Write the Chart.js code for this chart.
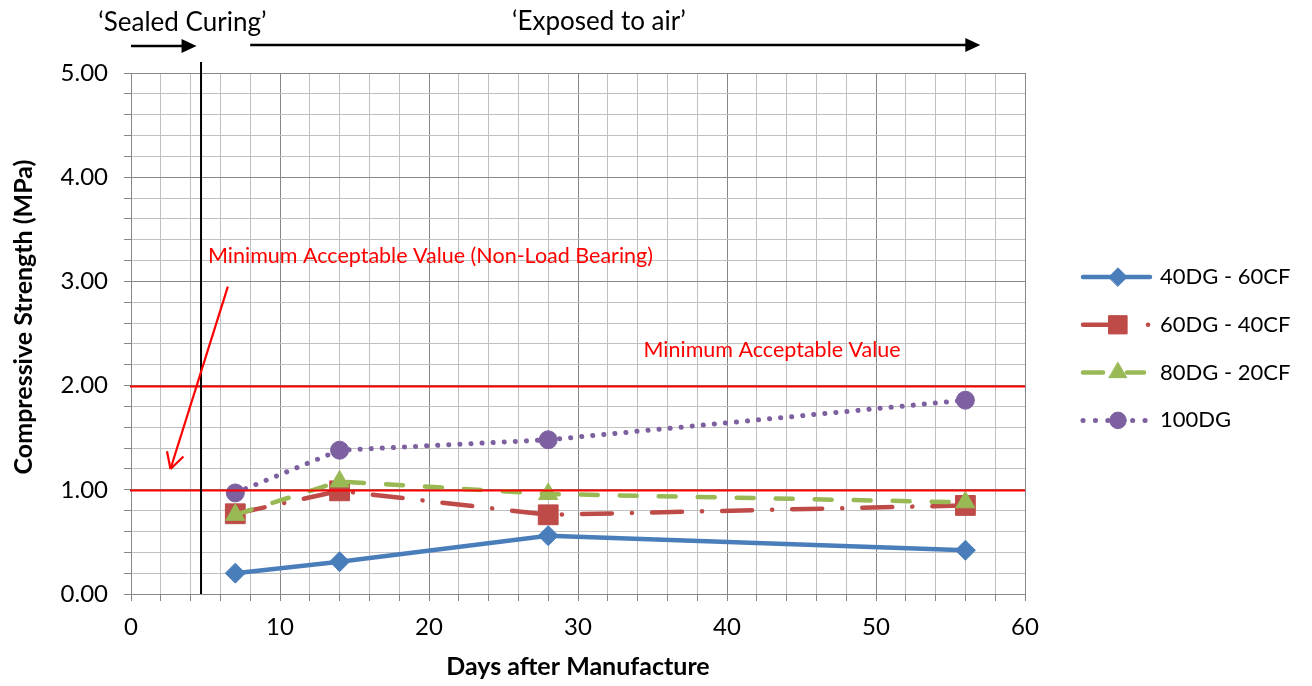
<!DOCTYPE html>
<html>
<head>
<meta charset="utf-8">
<script src="https://cdn.jsdelivr.net/npm/chart.js@4.4.1/dist/chart.umd.min.js"></script>
<style>
  html, body { margin: 0; padding: 0; background: #fff; }
  #wrap { width: 1312px; height: 686px; }
</style>
</head>
<body>
<div id="wrap"><canvas id="myChart" width="1312" height="686"></canvas></div>
<script>
// values
const days = [7, 14, 28, 56];
const s40dg = [0.20, 0.31, 0.56, 0.42];
const s60dg = [0.77, 0.99, 0.76, 0.85];
const s80dg = [0.76, 1.08, 0.96, 0.88];
const s100dg = [0.97, 1.38, 1.48, 1.86];
const seriesNames = ['40DG - 60CF', '60DG - 40CF', '80DG - 20CF', '100DG'];
const minValues = [1.0, 2.0];
const sealedEnd = 4.7;

const FONT = 'Lato, "Open Sans", sans-serif';

function pts(vals) {
    return days.map(function (d, i) { return { x: d, y: vals[i] }; });
}

const styles = [
    { color: '#4a7ebb', dash: [], legendDash: [], point: 'rectRot', r: 10, w: 4.5 },
    { color: '#be4b48', dash: [30, 20, 0.1, 20], legendDash: [35, 30, 0.1, 100], point: 'rect', r: 14, w: 4.5 },
    { color: '#98b954', dash: [17, 22], legendDash: [20, 24, 17, 100], point: 'triangle', r: 11, w: 4.5 },
    { color: '#7d60a0', dash: [0.1, 11], legendDash: [0.1, 12.3], point: 'circle', r: 9, w: 5 }
];
const allVals = [s40dg, s60dg, s80dg, s100dg];

const datasets = allVals.map(function (v, i) {
    const st = styles[i];
    return {
        label: seriesNames[i],
        data: pts(v),
        showLine: true,
        borderColor: st.color,
        backgroundColor: st.color,
        borderWidth: st.w,
        borderDash: st.dash,
        borderCapStyle: 'round',
        pointStyle: st.point,
        pointRadius: st.r,
        pointHoverRadius: st.r,
        pointBackgroundColor: st.color,
        pointBorderColor: st.color,
        pointBorderWidth: 1,
        order: 4 - i
    };
});

function line(ctx, x1, y1, x2, y2) {
    ctx.beginPath();
    ctx.moveTo(x1, y1);
    ctx.lineTo(x2, y2);
    ctx.stroke();
}

function solidArrow(ctx, x1, x2, y) {
    ctx.lineWidth = 2.5;
    line(ctx, x1, y, x2 - 12, y);
    ctx.beginPath();
    ctx.moveTo(x2, y);
    ctx.lineTo(x2 - 15, y - 7);
    ctx.lineTo(x2 - 15, y + 7);
    ctx.closePath();
    ctx.fill();
}

const annotate = {
    id: 'annotate',
    afterDatasetsDraw(chart) {
        const ctx = chart.ctx;
        const x = chart.scales.x, y = chart.scales.y, area = chart.chartArea;
        ctx.save();
        ctx.lineCap = 'butt';
        // minimum acceptable values
        ctx.strokeStyle = '#ff0000';
        ctx.lineWidth = 2;
        minValues.forEach(function (v) {
            const py = Math.round(y.getPixelForValue(v)) + 0.5;
            line(ctx, area.left - 1, py, area.right, py);
        });
        // end of sealed curing
        const vx = x.getPixelForValue(sealedEnd);
        ctx.strokeStyle = '#000';
        ctx.lineWidth = 2;
        line(ctx, vx, area.top - 11, vx, area.bottom);

        // red arrow pointing at the lower line
        const ax1 = x.getPixelForValue(6.5), ay1 = y.getPixelForValue(2.95);
        const ax2 = x.getPixelForValue(2.65), ay2 = y.getPixelForValue(1.2);
        ctx.strokeStyle = '#ff0000';
        ctx.lineWidth = 2.2;
        line(ctx, ax1, ay1, ax2, ay2);
        const ang = Math.atan2(ay2 - ay1, ax2 - ax1);
        [0.5, -0.5].forEach(function (d) {
            line(ctx, ax2, ay2, ax2 - 18 * Math.cos(ang + d), ay2 - 18 * Math.sin(ang + d));
        });

        ctx.fillStyle = '#ff0000';
        ctx.font = '21.5px ' + FONT;
        ctx.textBaseline = 'middle';
        ctx.textAlign = 'left';
        ctx.fillText('Minimum Acceptable Value (Non-Load Bearing)', x.getPixelForValue(5.17), y.getPixelForValue(3.24));
        ctx.fillText('Minimum Acceptable Value', x.getPixelForValue(34.4), y.getPixelForValue(2.34));

        // curing labels above the plot
        ctx.fillStyle = '#000';
        ctx.strokeStyle = '#000';
        ctx.font = '26px ' + FONT;
        ctx.fillText('\u2018Sealed Curing\u2019', x.getPixelForValue(-2.2), area.top - 50);
        ctx.textAlign = 'center';
        ctx.fillText('\u2018Exposed to air\u2019', x.getPixelForValue(31.4), area.top - 51);
        solidArrow(ctx, x.getPixelForValue(0), x.getPixelForValue(4.4), area.top - 27);
        solidArrow(ctx, x.getPixelForValue(8), x.getPixelForValue(57.0), area.top - 28);
        ctx.restore();
    },
    afterDraw(chart) {
        const ctx = chart.ctx;
        ctx.save();
        // y axis title, placed like the original (a bit above the axis centre)
        ctx.translate(24, 317);
        ctx.rotate(-Math.PI / 2);
        ctx.fillStyle = '#000';
        ctx.font = 'bold 25px ' + FONT;
        ctx.textAlign = 'center';
        ctx.textBaseline = 'middle';
        ctx.fillText('Compressive Strength (MPa)', 0, 0);
        ctx.restore();

        // legend on the right
        ctx.save();
        const x1 = 1083, x2 = 1150, mx = 1118, tx = 1160;
        chart.data.datasets.forEach(function (ds, i) {
            const yy = 277 + i * 47.8;
            ctx.strokeStyle = ds.borderColor;
            ctx.lineWidth = ds.borderWidth;
            ctx.lineCap = 'round';
            ctx.setLineDash(styles[i].legendDash);
            line(ctx, x1, yy, x2, yy);
            ctx.setLineDash([]);
            ctx.fillStyle = ds.borderColor;
            ctx.lineWidth = 1;
            Chart.helpers.drawPoint(ctx, {
                pointStyle: ds.pointStyle,
                radius: ds.pointRadius * 0.92,
                rotation: 0,
                borderWidth: 1
            }, mx, yy);
            ctx.fillStyle = '#000';
            ctx.font = '22px ' + FONT;
            ctx.textBaseline = 'middle';
            ctx.textAlign = 'left';
            ctx.fillText(ds.label, tx, yy);
        });
        ctx.restore();
    }
};

function gridColor(c) {
    const v = c.tick ? c.tick.value : 0;
    const step = c.scale.axis === 'x' ? 10 : 1;
    return Math.abs(v / step - Math.round(v / step)) < 1e-6 ? '#878787' : '#c0c0c0';
}

const CHART = document.getElementById('myChart');
let wykres = new Chart(CHART, {
    type: 'scatter',
    data: { datasets: datasets },
    options: {
        responsive: false,
        animation: false,
        events: [],
        layout: { padding: { top: 73, right: 287, left: 0, bottom: 0 } },
        plugins: {
            legend: { display: false },
            tooltip: { enabled: false }
        },
        scales: {
            x: {
                type: 'linear',
                min: 0,
                max: 60,
                afterFit: function (s) { s.height = 92; },
                border: { color: '#878787', width: 1 },
                grid: { color: gridColor, tickColor: '#878787', tickLength: 7, lineWidth: 1 },
                ticks: {
                    stepSize: 2,
                    autoSkip: false,
                    maxRotation: 0,
                    padding: 12,
                    color: '#000',
                    font: { family: FONT, size: 24 },
                    callback: function (v) { return v % 10 === 0 ? v : ''; }
                },
                title: {
                    display: true,
                    text: 'Days after Manufacture',
                    color: '#000',
                    font: { family: FONT, size: 25, weight: 'bold' },
                    padding: { top: 0, bottom: 4 }
                }
            },
            y: {
                min: 0,
                max: 5,
                afterFit: function (s) { s.width = 131; },
                border: { color: '#878787', width: 1 },
                grid: { color: gridColor, tickColor: '#878787', tickLength: 7, lineWidth: 1 },
                ticks: {
                    stepSize: 0.2,
                    autoSkip: false,
                    padding: 16,
                    color: '#000',
                    font: { family: FONT, size: 24 },
                    callback: function (v) {
                        return Math.abs(v - Math.round(v)) < 1e-6 ? Number(v).toFixed(2) : '';
                    }
                },
                title: { display: false }
            }
        }
    },
    plugins: [annotate]
});
</script>
</body>
</html>
